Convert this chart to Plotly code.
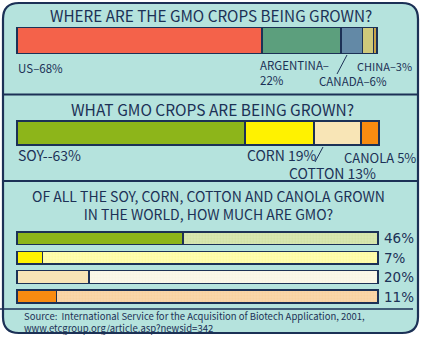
import plotly.graph_objects as go

W, H = 421, 337

# Share of global GMO crop area by country (%)
countries = ["US", "ARGENTINA", "CANADA", "CHINA", "OTHER"]
country_share = [68, 22, 6, 3, 1]
country_colors = ["#f4624a", "#5c9f7d", "#6389a6", "#cfc97a", "#c9a24a"]

# Share of global GMO crop area by crop (%)
crops = ["SOY", "CORN", "COTTON", "CANOLA"]
crop_share = [63, 19, 13, 5]
crop_colors = ["#8db51a", "#fff200", "#f8e5b6", "#f88b10"]

# Fraction of each crop's world harvest that is GMO (%)
gmo_fraction = [46, 7, 20, 11]
rest_colors = ["#d0e1a2", "#fdfb9c", "#f8f4e2", "#f8cf9c"]
rest_dots = ["#e8f0cc", "#ffffd6", "#fffdf6", "#fce3c4"]

NAVY = "#1c3156"
BG = "#b5e3dd"
EDGE = dict(color=NAVY, width=1.5)


def px(x):
    return x / W


def py(y):
    return 1 - y / H


def dom_x(lo, hi, r0, r1):
    # horizontal domain so that data r0..r1 lands on pixels lo..hi, with a margin
    k = (hi - lo) / (r1 - r0)
    return [px(lo - 1 * k), px(hi + 1 * k)], [r0 - 1, r1 + 1]


def dom_y(top, bottom, n, pad):
    # vertical domain for n+1 rows placed top to bottom
    k = (bottom - top) / n
    return [py(bottom + pad * k), py(top - pad * k)]


fig = go.Figure()

# --- panel 1: where crops are grown
for name, v, c in zip(countries, country_share, country_colors):
    fig.add_trace(go.Bar(x=[v], y=[0], orientation="h", width=1, name=name,
                         marker=dict(color=c, line=EDGE), xaxis="x", yaxis="y",
                         hoverinfo="name+x"))

# --- panel 2: which crops are grown
for name, v, c in zip(crops, crop_share, crop_colors):
    fig.add_trace(go.Bar(x=[v], y=[0], orientation="h", width=1, name=name,
                         marker=dict(color=c, line=EDGE), xaxis="x2", yaxis="y2",
                         hoverinfo="name+x"))

# --- panel 3: GMO share of each crop, then the non-GMO remainder
for i, (name, v) in enumerate(zip(crops, gmo_fraction)):
    fig.add_trace(go.Bar(x=[v], y=[i], orientation="h", width=0.66,
                         marker=dict(color=crop_colors[i], line=EDGE),
                         xaxis="x3", yaxis="y3", name=f"{name} GMO",
                         hoverinfo="name+x"))
    fig.add_trace(go.Bar(x=[100 - v], y=[i], orientation="h", width=0.66,
                         marker=dict(color=rest_colors[i], line=EDGE,
                                     pattern=dict(shape=".", size=3, solidity=0.45,
                                                  fillmode="overlay",
                                                  fgcolor=rest_dots[i],
                                                  bgcolor=rest_colors[i])),
                         xaxis="x3", yaxis="y3", name=f"{name} non-GMO",
                         hoverinfo="name+x"))

xd1, xr1 = dom_x(17, 377, 0, 100)
xd2, xr2 = dom_x(17, 379, 0, 100)
xd3, xr3 = dom_x(17, 378, 0, 100)

hidden = dict(visible=False, fixedrange=True)
fig.update_layout(
    width=W, height=H, margin=dict(l=0, r=0, t=0, b=0),
    paper_bgcolor="white", plot_bgcolor="rgba(0,0,0,0)",
    barmode="stack", showlegend=False,
    xaxis=dict(domain=xd1, range=xr1, anchor="y", **hidden),
    yaxis=dict(domain=[py(53.5 + 2.6), py(27.5 - 2.6)], range=[-0.6, 0.6],
               anchor="x", **hidden),
    xaxis2=dict(domain=xd2, range=xr2, anchor="y2", **hidden),
    yaxis2=dict(domain=[py(145 + 2.4), py(121 - 2.4)], range=[-0.6, 0.6],
                anchor="x2", **hidden),
    xaxis3=dict(domain=xd3, range=xr3, anchor="y3", **hidden),
    yaxis3=dict(domain=dom_y(238.3, 296.5, 3, 0.6), range=[3.6, -0.6],
                anchor="x3", **hidden),
)


def seg(x0, y0, x1, y1, w=2):
    return dict(type="line", xref="paper", yref="paper", layer="below",
                x0=px(x0), y0=py(y0), x1=px(x1), y1=py(y1),
                line=dict(color=NAVY, width=w))


# rounded outer frame
L, T, R, B, r = 3, 3, 418, 333, 16
frame = (f"M {px(L + r)},{py(T)} L {px(R - r)},{py(T)} "
         f"Q {px(R)},{py(T)} {px(R)},{py(T + r)} L {px(R)},{py(B - r)} "
         f"Q {px(R)},{py(B)} {px(R - r)},{py(B)} L {px(L + r)},{py(B)} "
         f"Q {px(L)},{py(B)} {px(L)},{py(B - r)} L {px(L)},{py(T + r)} "
         f"Q {px(L)},{py(T)} {px(L + r)},{py(T)} Z")
shapes = [
    dict(type="path", path=frame, xref="paper", yref="paper", layer="below",
         fillcolor=BG, line=dict(color=NAVY, width=2.2)),
    seg(L, 94.5, R, 94.5),
    seg(L, 181, R, 181),
    seg(0, 309, 413, 309, 1.3),
    seg(347, 55, 337, 74, 1),
    seg(323, 147, 315, 162, 1),
]

SANS = "Noto Sans CJK SC, Noto Sans, Liberation Sans"


def label(text, x, y, size, family=SANS, xanchor="left", yanchor="middle",
          align="left"):
    return dict(text=text, x=px(x), y=py(y), xref="paper", yref="paper",
                xanchor=xanchor, yanchor=yanchor, showarrow=False, align=align,
                font=dict(family=family, size=size, color=NAVY))


ann = [
    label("WHERE ARE THE GMO CROPS BEING GROWN?", 211, 15.5, 15.3, xanchor="center"),
    label("US\u201368%", 16, 68, 11.5),
    label("ARGENTINA\u2013", 258, 65, 11.5),
    label("22%", 258, 80, 11.5),
    label("CHINA\u20133%", 355, 66, 11),
    label("CANADA\u20136%", 317, 81.5, 11.5),
    label("WHAT GMO CROPS ARE BEING GROWN?", 212, 108.5, 15.5, xanchor="center"),
    label("SOY--63%", 16, 155, 14),
    label("CORN 19%", 245, 155, 14),
    label("CANOLA 5%", 342, 157, 13),
    label("COTTON 13%", 287, 173, 14),
    label("OF ALL THE SOY, CORN, COTTON AND CANOLA GROWN<br>"
          "IN THE WORLD, HOW MUCH ARE GMO?", 208, 204.8, 14, xanchor="center",
          align="center"),
    label("Source:\u00a0 International Service for the Acquisition of Biotech "
          "Application, 2001,<br>www.etcgroup.org/article.asp?newsid=342",
          22, 322, 9.5),
]
row_y = [238.3, 257.5, 276.7, 296.5]
for v, yy in zip(gmo_fraction, row_y):
    ann.append(label(f"{v}%", 382, yy, 13.5, "DejaVu Sans"))

fig.update_layout(shapes=shapes, annotations=ann)
fig.write_html("out.html")
